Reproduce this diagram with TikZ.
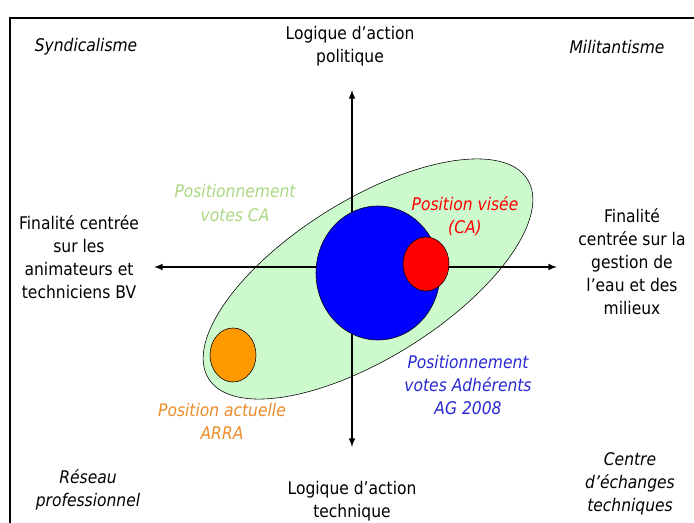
\documentclass[tikz,border=0pt]{standalone}
\usepackage{fontspec}
\setmainfont{DejaVu Sans}[FakeStretch=0.89]
\usepackage{tikz}
\usetikzlibrary{calc}
\definecolor{zonegreen}{RGB}{204,250,204}
\definecolor{labelgreen}{RGB}{170,216,130}
\definecolor{labelblue}{RGB}{40,40,210}
\definecolor{discorange}{RGB}{255,153,0}
\definecolor{labelorange}{RGB}{235,140,40}

\begin{document}
\begin{tikzpicture}[x=0.025cm,y=-0.025cm,
    txt/.style={align=center,inner sep=0pt,font=\fontsize{12.4}{16.4}\selectfont},
    itxt/.style={txt,font=\fontsize{12.4}{16.4}\selectfont\itshape},
    axis/.style={line width=1.1pt,latex-latex}]
		\useasboundingbox (0,0) rectangle (694,523);
		\draw[line width=1pt] (10,523) |- (694,18);
		\coordinate (E) at (368,279);
		\filldraw[fill=zonegreen,draw=black,thin,rotate around={32:(E)}] (E) ellipse [x radius=188,y radius=79];
		\coordinate (T) at (352,90);   \coordinate (B) at (352,447);
		\coordinate (L) at (154,267);  \coordinate (R) at (557,267);
		\draw[axis] (T) -- (B);
		\draw[axis] (L) -- (R);
		\coordinate (AG) at (378,273); \filldraw[fill=blue,draw=black,thin] (AG) ellipse [x radius=62,y radius=67];
		\coordinate (CA) at (426,264); \filldraw[fill=red,draw=black,thin] (CA) ellipse [x radius=23,y radius=27];
		\coordinate (AR) at (233,355); \filldraw[fill=discorange,draw=black,thin] (AR) ellipse [x radius=23,y radius=27];
		\node[itxt] (synd) at (86,47) {Syndicalisme};
		\node[itxt] (milit) at (617,47) {Militantisme};
		\node[txt] (polit) at (350,46) {Logique d’action\\politique};
		\node[txt] (anim) at (79,257) {Finalité centrée\\sur les\\animateurs et\\techniciens BV};
		\node[txt] (eau) at (632,262) {Finalité\\centrée sur la\\gestion de\\l’eau et des\\milieux};
		\node[itxt,text=labelgreen] (votesca) at (235,203) {Positionnement\\votes CA};
		\node[itxt,text=red] (visee) at (465,216) {Position visée\\(CA)};
		\node[itxt,text=labelblue] (adher) at (468,385) {Positionnement\\votes Adhérents\\AG 2008};
		\node[itxt,text=labelorange] (arra) at (222,421) {Position actuelle\\ARRA};
		\node[txt] (techn) at (352,501) {Logique d’action\\technique};
		\node[itxt] (reseau) at (88,490) {Réseau\\professionnel};
		\node[itxt] (centre) at (630,484) {Centre\\d’échanges\\techniques};
	\end{tikzpicture}
\end{document}
